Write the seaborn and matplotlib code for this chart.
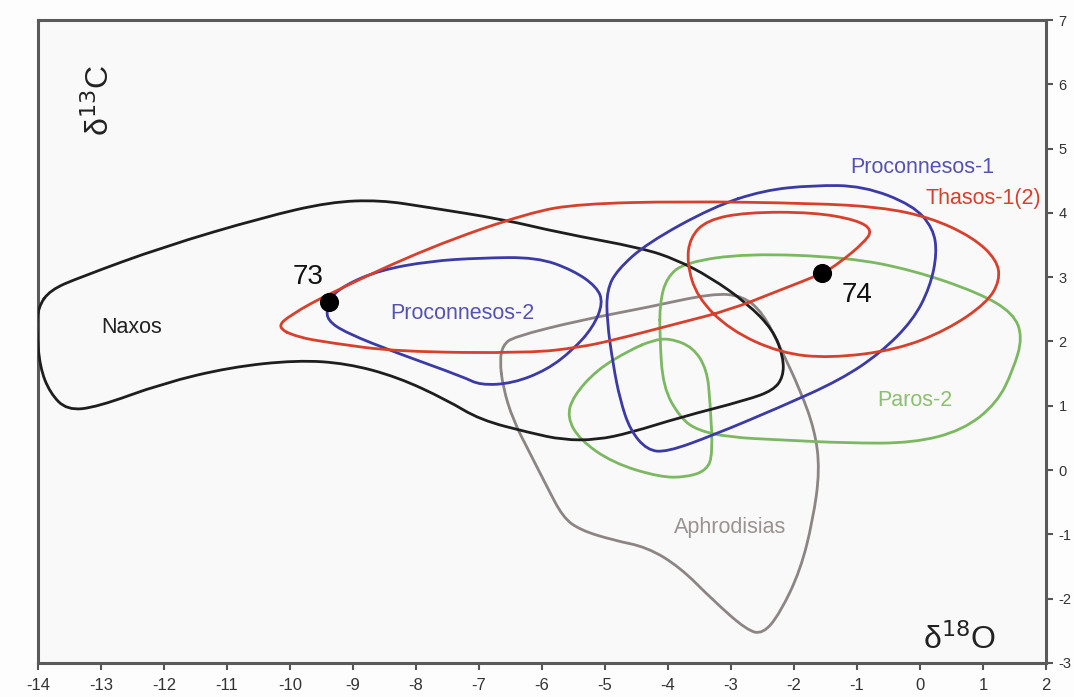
import numpy as np
import pandas as pd
import matplotlib
matplotlib.use("Agg")
import matplotlib.pyplot as plt
from matplotlib.path import Path
from matplotlib.patches import PathPatch
import seaborn as sns

# ---------------- data ----------------
naxos_x = [-14.0, -14.02, -13.97, -13.81, -13.54, -13.06, -12.02, -10.95, -9.89, -9.10, -8.30, -7.51,
           -6.98, -6.19, -5.67, -5.13, -4.60, -3.81, -2.75, -2.33, -2.17, -2.17, -2.33, -2.75, -3.33,
           -3.86, -4.40, -5.71, -6.62, -7.83, -8.57, -9.37, -10.43, -12.02, -13.33, -13.81]
naxos_y = [2.53, 2.18, 1.60, 1.20, 0.93, 0.98, 1.35, 1.60, 1.71, 1.66, 1.45, 1.09,
           0.78, 0.58, 0.47, 0.47, 0.58, 0.82, 1.09, 1.24, 1.45, 1.76, 2.18, 2.60, 3.00,
           3.27, 3.45, 3.69, 3.90, 4.09, 4.20, 4.17, 3.93, 3.47, 3.00, 2.80]

pro2_x = [-9.41, -9.13, -8.57, -7.78, -6.98, -6.08, -5.51, -5.13, -5.03, -5.19, -5.51, -5.92,
          -6.46, -6.98, -7.25, -8.30, -9.10, -9.41, -9.41]
pro2_y = [2.64, 2.88, 3.11, 3.25, 3.30, 3.31, 3.11, 2.85, 2.60, 2.22, 1.87, 1.56,
          1.35, 1.32, 1.45, 1.82, 2.13, 2.33, 2.53]

pro1_x = [-2.49, -1.70, -0.90, -0.11, 0.21, 0.27, 0.16, -0.11, -0.63, -1.27, -2.22, -3.29,
          -4.02, -4.33, -4.60, -4.76, -4.87, -4.97, -4.97, -4.81, -4.33, -3.29]
pro1_y = [4.35, 4.43, 4.42, 4.12, 3.76, 3.37, 2.85, 2.33, 1.82, 1.40, 0.98, 0.54,
          0.28, 0.31, 0.62, 1.09, 1.63, 2.33, 2.80, 3.11, 3.53, 4.09]

thasos_x = [-10.21, -10.0, -9.37, -7.78, -6.19, -5.40, -3.81, -1.70, -0.63, 0.16, 0.84, 1.22,
            1.27, 1.06, 0.43, -0.37, -1.43, -2.22, -3.02, -3.54, -3.70, -3.65, -3.38, -2.75,
            -1.70, -1.0, -0.75, -0.90, -1.27, -1.54, -2.22, -3.02, -3.81, -4.87, -5.40, -6.19,
            -8.30, -9.37, -9.89]
thasos_y = [2.22, 2.41, 2.75, 3.47, 4.01, 4.14, 4.18, 4.15, 4.09, 3.93, 3.62, 3.27,
            2.95, 2.60, 2.18, 1.87, 1.74, 1.82, 2.18, 2.69, 3.22, 3.62, 3.89, 4.01,
            4.01, 3.89, 3.73, 3.53, 3.23, 3.06, 2.80, 2.49, 2.29, 2.02, 1.91, 1.82,
            1.84, 1.98, 2.07]

paros_a_x = [-4.13, -4.02, -3.73, -2.75, -1.16, -0.11, 0.95, 1.48, 1.63, 1.48, 1.22, 0.68,
             -0.11, -1.16, -2.22, -3.02, -3.54, -3.81, -4.08, -4.13]
paros_a_y = [2.60, 3.00, 3.23, 3.37, 3.31, 3.11, 2.75, 2.44, 2.07, 1.56, 1.04, 0.62,
             0.42, 0.42, 0.47, 0.51, 0.62, 0.82, 1.29, 2.07]

paros_b_x = [-4.24, -3.97, -3.60, -3.38, -3.33, -3.29, -3.38, -3.70, -4.13, -4.87, -5.40,
             -5.60, -5.51, -5.13, -4.60]
paros_b_y = [2.02, 2.05, 1.91, 1.56, 1.04, 0.26, 0.00, -0.11, -0.11, 0.11, 0.47,
             0.82, 1.14, 1.56, 1.87]

aphro_x = [-6.67, -6.62, -6.46, -5.40, -4.33, -3.29, -2.81, -2.49, -2.22, -1.90, -1.67, -1.59,
           -1.70, -1.90, -2.22, -2.49, -2.75, -3.29, -3.81, -4.33, -4.87, -5.40, -5.67, -5.92,
           -6.19, -6.46, -6.62]
aphro_y = [1.71, 1.94, 2.07, 2.33, 2.53, 2.75, 2.71, 2.44, 1.91, 1.24, 0.62, 0.00,
           -0.78, -1.56, -2.22, -2.55, -2.49, -2.02, -1.51, -1.20, -1.09, -0.93, -0.73, -0.26,
           0.26, 0.78, 1.29]

sample_labels = ["73", "74"]
sample_x = [-9.38, -1.56]
sample_y = [2.61, 3.06]

x_ticks = list(range(-14, 3))
y_ticks = list(range(-3, 8))

# ---------------- figure ----------------
sns.set_theme(style="white")
plt.rcParams['font.family'] = ['Liberation Sans', 'DejaVu Sans']

fig = plt.figure(figsize=(10.74, 6.97), dpi=100)
fig.patch.set_facecolor("#fdfdfd")
ax = fig.add_axes([38 / 1074, 1 - 663 / 697, 1008 / 1074, 643 / 697])
ax.set_facecolor("#f9f9f9")


def smooth_closed(xs, ys, color, lw=2.0):
    pts = np.column_stack([xs, ys])
    n = len(pts)
    nxt = np.roll(pts, -1, axis=0)
    mids = (pts + nxt) / 2.0
    verts = [mids[-1]]
    codes = [Path.MOVETO]
    for i in range(n):
        verts.append(pts[i]); codes.append(Path.CURVE3)
        verts.append(mids[i]); codes.append(Path.CURVE3)
    patch = PathPatch(Path(verts, codes), facecolor="none", edgecolor=color,
                      lw=lw, joinstyle="round", capstyle="round", zorder=3)
    ax.add_patch(patch)


c_black = "#1e1e1e"
c_blue = "#3b3aa6"
c_red = "#d8402e"
c_green = "#7cb862"
c_gray = "#8c8584"

smooth_closed(aphro_x, aphro_y, c_gray)
smooth_closed(paros_a_x, paros_a_y, c_green)
smooth_closed(paros_b_x, paros_b_y, c_green)
smooth_closed(naxos_x, naxos_y, c_black)
smooth_closed(pro2_x, pro2_y, c_blue)
smooth_closed(pro1_x, pro1_y, c_blue)
smooth_closed(thasos_x, thasos_y, c_red)

pts = pd.DataFrame({"x": sample_x, "y": sample_y, "label": sample_labels})
sns.scatterplot(data=pts, x="x", y="y", color="black", s=190, ax=ax, zorder=5,
                edgecolor="black", linewidth=0, legend=False)

# labels
lab_fs = 15.5
ax.text(-12.51, 2.21, "Naxos", color="#222222", fontsize=lab_fs, ha="center", va="center")
ax.text(-7.27, 2.44, "Proconnesos-2", color="#5552b4", fontsize=lab_fs, ha="center", va="center")
ax.text(0.03, 4.70, "Proconnesos-1", color="#5552b4", fontsize=lab_fs, ha="center", va="center")
ax.text(1.0, 4.23, "Thasos-1(2)", color="#d8402e", fontsize=lab_fs, ha="center", va="center")
ax.text(-0.08, 1.09, "Paros-2", color="#8cbf70", fontsize=lab_fs, ha="center", va="center")
ax.text(-3.02, -0.90, "Aphrodisias", color="#9a9392", fontsize=lab_fs, ha="center", va="center")
ax.text(-9.71, 3.00, sample_labels[0], color="#111111", fontsize=20, ha="center", va="center")
ax.text(-1.0, 2.72, sample_labels[1], color="#111111", fontsize=20, ha="center", va="center")
ax.text(-13.02, 5.75, "δ$^{13}$C", color="#222222", fontsize=23, rotation=90,
        ha="center", va="center")
ax.text(0.63, -2.64, "δ$^{18}$O", color="#222222", fontsize=23, ha="center", va="center")

ax.set_xlim(-14, 2)
ax.set_ylim(-3, 7)
ax.set_xticks(x_ticks)
ax.set_xticklabels([str(t) for t in x_ticks])
ax.set_yticks(y_ticks)
ax.set_yticklabels([str(t) for t in y_ticks])
ax.set_xlabel("")
ax.set_ylabel("")
ax.yaxis.tick_right()
ax.tick_params(axis="x", bottom=True, direction="out", length=5, width=1.5, color="#555555",
               pad=6, labelsize=12, labelcolor="#333333")
ax.tick_params(axis="y", right=True, left=False, direction="out", length=5, width=1.5,
               color="#555555", pad=4, labelsize=10.5, labelcolor="#333333")
for side in ["left", "right", "top", "bottom"]:
    ax.spines[side].set_visible(True)
    ax.spines[side].set_color("#5a5a5a")
    ax.spines[side].set_linewidth(2.2)

fig.savefig("out.png", dpi=100)
